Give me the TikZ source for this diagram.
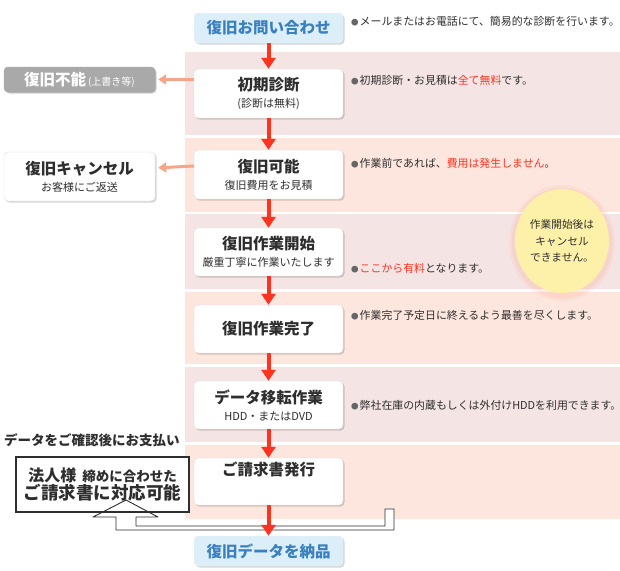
\documentclass[tikz,border=0pt]{standalone}
\usepackage{fontspec}
\setmainfont{Noto Sans CJK JP}
\usetikzlibrary{arrows.meta,shadows,shapes.geometric}
\definecolor{bandpink}{HTML}{F5E4E4}
\definecolor{bandpeach}{HTML}{FDE6DD}
\definecolor{redarrow}{HTML}{FF3320}
\definecolor{salmon}{HTML}{F7A489}
\definecolor{lightblue}{HTML}{DCEFF8}
\definecolor{bluetext}{HTML}{3A7FC0}
\definecolor{darktext}{HTML}{2E2E2E}
\definecolor{bulletgray}{HTML}{666666}
\definecolor{hired}{HTML}{FF3322}
\definecolor{circyellow}{HTML}{FDF0A8}
\definecolor{greybox}{HTML}{A9A9A9}
\newcommand{\ttlfont}{\fontsize{15.5}{17}\selectfont\bfseries}
\newcommand{\subfnt}{\fontsize{11}{17}\selectfont}
\newcommand{\bul}{{\color{bulletgray}\fontsize{7.5}{8}\selectfont ●}\hspace{1pt}}
\newcommand{\hl}[1]{{\color{hired}#1}}
\tikzset{
  stepbox/.style={draw=black!13, fill=white, rounded corners=4pt, minimum width=149pt,
    inner sep=0pt, align=center, text=darktext, font=\fontsize{11}{17}\selectfont,
    drop shadow={shadow xshift=1.5pt, shadow yshift=-1.5pt, fill=black, opacity=0.16}},
  endbox/.style={stepbox, fill=lightblue, draw=lightblue!80!black!20, text=bluetext,
    minimum height=30pt, font=\ttlfont},
  note/.style={anchor=west, inner sep=0pt, text=darktext, font=\fontsize{10.9}{12}\selectfont},
  flow/.style={draw=redarrow, line width=4pt, -{Triangle[width=14pt,length=11pt]}},
  side/.style={draw=salmon, line width=3pt, -{Triangle[width=10pt,length=8pt]}, shorten >=3pt},
}
\begin{document}
\begin{tikzpicture}[x=1pt,y=-1pt]
\useasboundingbox (0,0) rectangle (620,570);
% bands
\fill[bandpink]  (185,52)  rectangle (620,135);
\fill[bandpeach] (185,138) rectangle (620,212);
\fill[bandpink]  (185,214) rectangle (620,289);
\fill[bandpeach] (185,292) rectangle (620,364);
\fill[bandpink]  (185,367) rectangle (620,442);
\fill[bandpeach] (185,445) rectangle (620,519);

% main flow nodes
\node[endbox] (start) at (268.5,28) {復旧お問い合わせ};
\node[stepbox, minimum height=49pt] (n1) at (268.5,93.5) {{\ttlfont 初期診断}\\{\subfnt (診断は無料)}};
\node[stepbox, minimum height=49pt] (n2) at (268.5,174.5) {{\ttlfont 復旧可能}\\{\subfnt 復旧費用をお見積}};
\node[stepbox, minimum height=48pt] (n3) at (268.5,252) {{\ttlfont 復旧作業開始}\\{\subfnt 厳重丁寧に作業いたします}};
\node[stepbox, minimum height=48pt, font=\ttlfont] (n4) at (268.5,329) {復旧作業完了};
\node[stepbox, minimum height=48pt] (n5) at (268.5,405) {{\ttlfont データ移転作業}\\{\subfnt HDD・またはDVD}};
\node[stepbox, font=\ttlfont, text height=17.5pt, text depth=29.5pt] (n6) at (268.5,481.5) {ご請求書発行};
\node[endbox] (goal) at (268.5,551) {復旧データを納品};

% side nodes
\node[stepbox, fill=greybox, draw=black!35, text=white, minimum width=151pt, minimum height=25pt,
  drop shadow={shadow xshift=1pt, shadow yshift=-1pt, fill=black, opacity=0.12}] (fail) at (79.5,79.5)
  {{\ttlfont 復旧不能}\,{\fontsize{10}{12}\selectfont (上書き等)}};
\node[stepbox, minimum width=151pt, minimum height=49pt] (cancel) at (79.5,176.5)
  {{\ttlfont 復旧キャンセル}\\{\subfnt お客様にご返送}};

% notes
\node[note] (t0) at (351,21) {\bul メールまたはお電話にて、簡易的な診断を行います。};
\node[note] (t1) at (351,80) {\bul 初期診断・お見積は\hl{全て無料}です。};
\node[note] (t2) at (351,163) {\bul 作業前であれば、\hl{費用は発生しません}。};
\node[note] (t3) at (351,268) {\bul \hl{ここから有料}となります。};
\node[note] (t4) at (351,315) {\bul 作業完了予定日に終えるよう最善を尽くします。};
\node[note] (t5) at (351,405) {\bul 弊社在庫の内蔵もしくは外付けHDDを利用できます。};

% caution circle
\fill[salmon, opacity=0.10] (562,243) ellipse (53pt and 58pt);
\fill[salmon, opacity=0.14] (562,243) ellipse (50.5pt and 55.5pt);
\node[ellipse, fill=circyellow, minimum width=94pt, minimum height=104pt, inner sep=0pt,
  align=center, text=darktext, font=\fontsize{10.7}{16.5}\selectfont] (warn) at (562,241)
  {作業開始後は\\キャンセル\\できません。};

% payment notes
\node[anchor=west, inner sep=0pt, text=darktext, font=\fontsize{13.5}{15}\selectfont\bfseries] (pay) at (4,440)
  {データをご確認後にお支払い};
\fill[white] (93,517) -- (126,500) -- (158,517) -- (136,517) -- (136,526) -- (385,526)
  -- (385,509) -- (394,509) -- (394,530) -- (116,530) -- (116,517) -- cycle;
\node[draw=darktext, line width=2pt, fill=white, minimum width=173pt, minimum height=55pt,
  inner sep=0pt, align=center, text=darktext] (corp) at (102.5,484.5)
  {{\fontsize{16}{22}\selectfont\bfseries 法人様}\hspace{6pt}{\fontsize{13.5}{22}\selectfont\bfseries 締めに合わせた}\\
   {\fontsize{17.5}{22}\selectfont\bfseries ご請求書に対応可能}};
\draw[darktext, line width=0.9pt, line join=round] (93,517) -- (126,500) -- (158,517) -- (136,517) -- (136,526) -- (385,526)
  -- (385,509) -- (394,509) -- (394,530) -- (116,530) -- (116,517) -- cycle;

% connectors
\draw[side] (n1.west |- fail.east) -- (fail.east);
\draw[side] ([yshift=8.5pt]n2.west) -- ([yshift=8.5pt]cancel.east);
\draw[flow] (start.south) -- (n1.north);
\draw[flow] (n1.south) -- (n2.north);
\draw[flow] (n2.south) -- (n3.north);
\draw[flow] (n3.south) -- (n4.north);
\draw[flow] (n4.south) -- (n5.north);
\draw[flow] (n5.south) -- (n6.north);
\draw[flow] (n6.south) -- (goal.north);
\end{tikzpicture}
\end{document}
